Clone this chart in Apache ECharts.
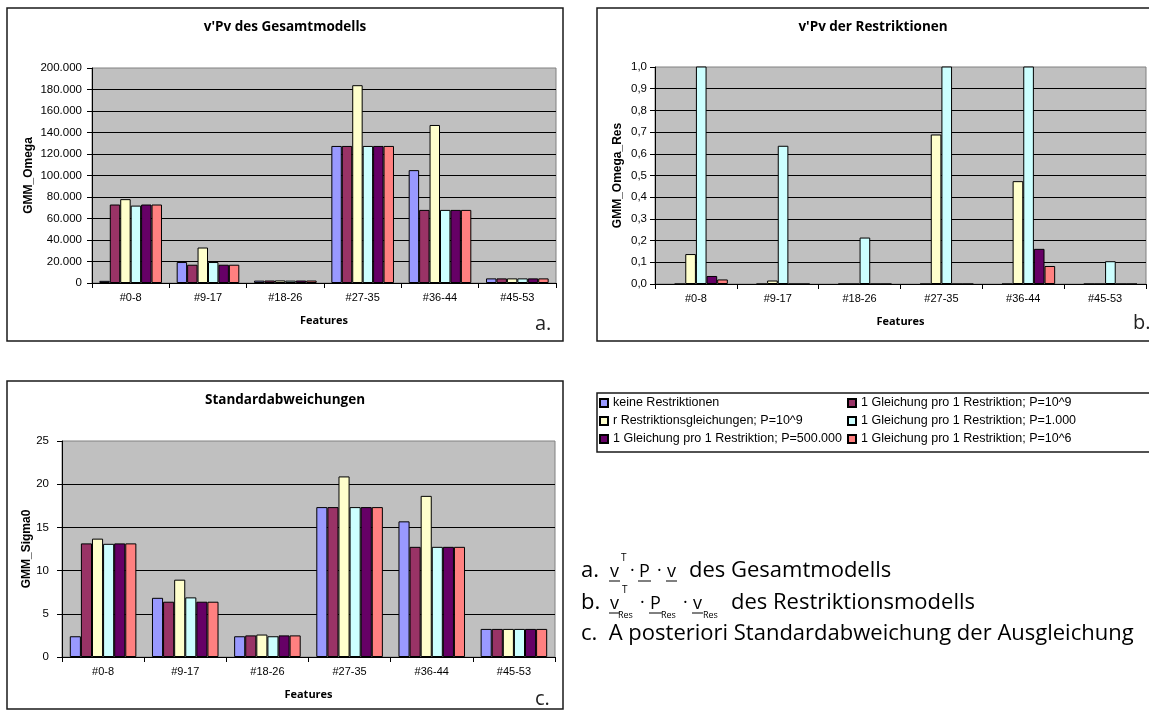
<!DOCTYPE html>
<html>
<head>
<meta charset="utf-8">
<script src="https://cdn.jsdelivr.net/npm/echarts@6/dist/echarts.min.js"></script>
<style>
  html, body { margin: 0; padding: 0; background: #ffffff; }
  #main { width: 1149px; height: 713px; }
</style>
</head>
<body>
<div id="main"></div>
<script>
// Feature groups on the x axes
const features = ['#0-8', '#9-17', '#18-26', '#27-35', '#36-44', '#45-53'];

// Variants of the adjustment (one bar per variant and feature group)
const seriesNames = [
  'keine Restriktionen',
  '1 Gleichung pro 1 Restriktion; P=10^9',
  'r Restriktionsgleichungen; P=10^9',
  '1 Gleichung pro 1 Restriktion; P=1.000',
  '1 Gleichung pro 1 Restriktion; P=500.000',
  '1 Gleichung pro 1 Restriktion; P=10^6'
];
const seriesColors = ['#9999FF', '#993366', '#FFFFCC', '#CCFFFF', '#660066', '#FF8080'];

// a. v'Pv des Gesamtmodells (GMM_Omega), one row per variant
const omegaValues = [
  [2000, 19500, 2200, 127500, 105000, 4300],
  [73000, 17000, 2300, 127500, 68000, 4300],
  [78000, 33000, 2400, 184000, 147000, 4300],
  [72000, 19500, 2200, 127500, 68000, 4300],
  [73000, 17000, 2300, 127500, 68000, 4300],
  [73000, 17000, 2300, 127500, 68000, 4300]
];

// b. v'Pv der Restriktionen (GMM_Omega_Res); values above 1,0 run past the axis
const resValues = [
  [null, null, null, null, null, null],
  [0, 0, 0, 0, 0, 0],
  [0.138, 0.016, 0, 0.689, 0.474, 0],
  [1.9, 0.637, 0.214, 2.7, 2.2, 0.105],
  [0.037, 0, 0, 0, 0.162, 0],
  [0.021, 0, 0, 0, 0.083, 0]
];

// c. Standardabweichungen (GMM_Sigma0)
const sigmaValues = [
  [2.4, 6.85, 2.4, 17.35, 15.7, 3.25],
  [13.15, 6.4, 2.5, 17.35, 12.75, 3.25],
  [13.7, 8.95, 2.6, 20.9, 18.65, 3.25],
  [13.1, 6.9, 2.4, 17.35, 12.75, 3.25],
  [13.15, 6.4, 2.5, 17.35, 12.75, 3.25],
  [13.15, 6.4, 2.5, 17.35, 12.75, 3.25]
];

// Tick labels of the value axes
const omegaTicks = ['0', '20.000', '40.000', '60.000', '80.000', '100.000', '120.000', '140.000', '160.000', '180.000', '200.000'];
const resTicks = ['0,0', '0,1', '0,2', '0,3', '0,4', '0,5', '0,6', '0,7', '0,8', '0,9', '1,0'];
const sigmaTicks = ['0', '5', '10', '15', '20', '25'];

const chartTitles = ["v'Pv des Gesamtmodells", "v'Pv der Restriktionen", 'Standardabweichungen'];
const yNames = ['GMM_Omega', 'GMM_Omega_Res', 'GMM_Sigma0'];

const ARIAL = 'Liberation Sans, Arial, sans-serif';
const ROUND = 'Open Sans, sans-serif';

const panels = [
  { grid: { left: 92, top: 68, width: 464, height: 215 }, values: omegaValues, ticks: omegaTicks, step: 20000, labelMargin: 10, nameGap: 57, gap: '19%' },
  { grid: { left: 655, top: 67, width: 491, height: 217 }, values: resValues, ticks: resTicks, step: 0.1, labelMargin: 8, nameGap: 31, gap: '22%' },
  { grid: { left: 62, top: 441, width: 493, height: 216 }, values: sigmaValues, ticks: sigmaTicks, step: 5, labelMargin: 13, nameGap: 27, gap: '19%' }
];

const grids = panels.map(p => Object.assign({
  show: true,
  backgroundColor: '#C0C0C0',
  borderColor: '#808080',
  borderWidth: 1,
  containLabel: false,
  outerBoundsMode: 'none'
}, p.grid));

const xAxes = panels.map((p, k) => ({
  type: 'category',
  gridIndex: k,
  data: features,
  axisLine: { show: true, lineStyle: { color: '#000', width: 1 } },
  axisTick: { show: true, length: 5, lineStyle: { color: '#000', width: 1 } },
  axisLabel: { show: true, color: '#000', fontFamily: ARIAL, fontSize: 11, margin: 9 },
  splitLine: { show: false },
  name: 'Features',
  nameLocation: 'middle',
  nameGap: 32,
  nameTextStyle: { color: '#000', fontFamily: ROUND, fontWeight: 'bold', fontSize: 11 }
}));

const yAxes = panels.map((p, k) => ({
  type: 'value',
  gridIndex: k,
  min: 0,
  max: p.step * (p.ticks.length - 1),
  interval: p.step,
  axisLine: { show: true, lineStyle: { color: '#000', width: 1 } },
  axisTick: { show: true, length: 5, lineStyle: { color: '#000', width: 1 } },
  axisLabel: {
    show: true, color: '#000', fontFamily: ARIAL, fontSize: 11.5, margin: p.labelMargin,
    formatter: v => p.ticks[Math.round(v / p.step)]
  },
  splitLine: { show: true, showMaxLine: false, lineStyle: { color: '#000', width: 1 } },
  name: yNames[k],
  nameLocation: 'middle',
  nameRotate: 90,
  nameGap: p.nameGap,
  nameTextStyle: { color: '#000', fontFamily: ARIAL, fontWeight: 'bold', fontSize: 12 }
}));

const series = [];
panels.forEach((p, k) => {
  p.values.forEach((row, i) => {
    series.push({
      type: 'bar',
      name: seriesNames[i],
      xAxisIndex: k,
      yAxisIndex: k,
      data: row,
      barGap: '0%',
      barCategoryGap: p.gap,
      clip: true,
      itemStyle: { color: seriesColors[i], borderColor: '#000', borderWidth: 1 },
      emphasis: { disabled: true }
    });
  });
});

const titleCenters = [[285, 20], [873, 20], [285, 393]];
const titles = chartTitles.map((t, k) => ({
  text: t,
  left: titleCenters[k][0],
  top: titleCenters[k][1],
  textAlign: 'center',
  padding: 0,
  textStyle: { color: '#000', fontFamily: ROUND, fontWeight: 'bold', fontSize: 13.5 }
}));

const legendText = { color: '#000', fontFamily: ARIAL, fontSize: 12.5, lineHeight: 14 };
const legends = [
  { data: [seriesNames[0], seriesNames[2], seriesNames[4]], left: 599 },
  { data: [seriesNames[1], seriesNames[3], seriesNames[5]], left: 847 }
].map(l => Object.assign({
  orient: 'vertical',
  top: 396,
  padding: 0,
  itemWidth: 8,
  itemHeight: 8,
  itemGap: 4,
  icon: 'rect',
  selectedMode: false,
  textStyle: legendText
}, l));

// Frames round the three charts and the legend
function frame(x, y, w, h) {
  return { type: 'rect', silent: true, z: -1, shape: { x: x, y: y, width: w, height: h },
           style: { fill: 'none', stroke: '#1a1a1a', lineWidth: 1.5 } };
}
function txt(s, x, y, size, color) {
  return { type: 'text', silent: true, x: x, y: y,
           style: { text: s, fontFamily: ROUND, fontSize: size, fill: color || '#000', align: 'left', verticalAlign: 'middle' } };
}
function uline(x1, x2, y) {
  return { type: 'line', silent: true, shape: { x1: x1, y1: y, x2: x2, y2: y }, style: { stroke: '#000', lineWidth: 1 } };
}

const MAIN = 22, SYM = 18, SMALL = 10, SUB = 9;
const yA = 571, yB = 603, yC = 634;
const graphics = [
  frame(7, 8, 556, 333),
  frame(597, 8, 570, 333),
  frame(7, 381, 556, 328),
  frame(597, 393, 570, 59),
  txt('a.', 535, 324, 20, '#222'),
  txt('b.', 1133, 323, 20, '#222'),
  txt('c.', 535, 699, 20, '#222'),

  // a.  v^T · P · v  des Gesamtmodells
  txt('a.', 581, yA, MAIN),
  txt('v', 610, yA + 1, SYM), uline(609, 620, yA + 10),
  txt('T', 621, yA - 13, SMALL),
  txt('·', 630, yA, SYM),
  txt('P', 639, yA + 1, SYM), uline(638, 651, yA + 10),
  txt('·', 657, yA, SYM),
  txt('v', 667, yA + 1, SYM), uline(666, 677, yA + 10),
  txt('des Gesamtmodells', 689, yA, MAIN),

  // b.  v_Res^T · P_Res · v_Res  des Restriktionsmodells
  txt('b.', 581, yB, MAIN),
  txt('v', 610, yB + 1, SYM), uline(609, 620, yB + 10),
  txt('T', 622, yB - 13, SMALL),
  txt('Res', 618, yB + 12, SUB),
  txt('·', 640, yB, SYM),
  txt('P', 650, yB + 1, SYM), uline(649, 662, yB + 10),
  txt('Res', 661, yB + 12, SUB),
  txt('·', 683, yB, SYM),
  txt('v', 693, yB + 1, SYM), uline(692, 703, yB + 10),
  txt('Res', 703, yB + 12, SUB),
  txt('des Restriktionsmodells', 731, yB, MAIN),

  // c.
  txt('c.  A posteriori Standardabweichung der Ausgleichung', 581, yC, MAIN)
];

const chart = echarts.init(document.getElementById('main'), null, { renderer: 'canvas' });
chart.setOption({
  animation: false,
  backgroundColor: '#ffffff',
  title: titles,
  legend: legends,
  tooltip: { show: false },
  grid: grids,
  xAxis: xAxes,
  yAxis: yAxes,
  series: series,
  graphic: graphics
});
</script>
</body>
</html>
